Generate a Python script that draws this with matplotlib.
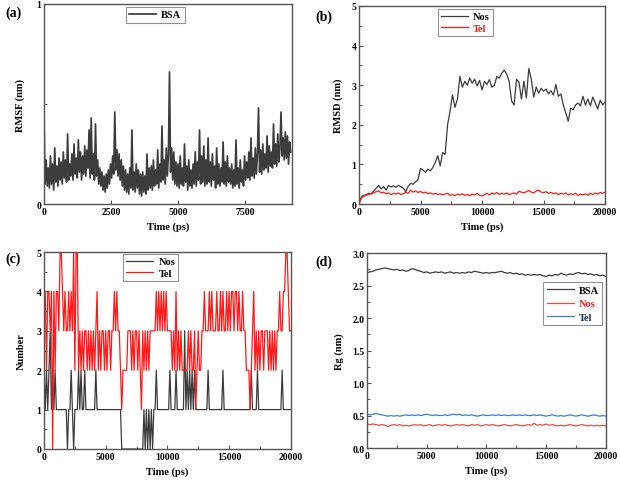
import matplotlib
matplotlib.use("Agg")
import matplotlib.pyplot as plt
from matplotlib.ticker import MultipleLocator, FixedLocator
import numpy as np

plt.rcParams['font.family'] = ['Liberation Serif', 'DejaVu Serif']
plt.rcParams['font.weight'] = 'bold'

# ---------------- data ----------------
# (a) RMSF of BSA, atoms 0..9200 step 40
rmsf_step = 40
rmsf = [
    0.45, 0.10, 0.22, 0.09, 0.18, 0.08, 0.24, 0.10, 0.20, 0.07, 0.28, 0.11, 0.19, 0.09, 0.23, 0.12, 0.21, 0.10, 0.26, 0.13, 0.22, 0.11, 0.35, 0.12, 0.20,
    0.14, 0.25, 0.12, 0.30, 0.15, 0.23, 0.13, 0.32, 0.16, 0.26, 0.12, 0.24, 0.15, 0.29, 0.14, 0.27, 0.18, 0.37, 0.13, 0.43, 0.15, 0.25, 0.12, 0.40, 0.14,
    0.22, 0.10, 0.18, 0.09, 0.16, 0.07, 0.14, 0.06, 0.15, 0.08, 0.17, 0.10, 0.20, 0.13, 0.24, 0.15, 0.46, 0.17, 0.27, 0.14, 0.25, 0.12, 0.22, 0.09, 0.19,
    0.07, 0.17, 0.06, 0.15, 0.05, 0.18, 0.08, 0.37, 0.07, 0.16, 0.06, 0.20, 0.08, 0.17, 0.05, 0.15, 0.04, 0.16, 0.06, 0.14, 0.05, 0.25, 0.07, 0.18, 0.08,
    0.19, 0.07, 0.22, 0.09, 0.17, 0.10, 0.27, 0.08, 0.20, 0.11, 0.39, 0.12, 0.22, 0.10, 0.28, 0.14, 0.25, 0.66, 0.16, 0.28, 0.12, 0.26, 0.10, 0.21, 0.09,
    0.20, 0.08, 0.24, 0.10, 0.18, 0.09, 0.30, 0.11, 0.19, 0.07, 0.22, 0.09, 0.17, 0.08, 0.20, 0.10, 0.26, 0.09, 0.21, 0.12, 0.37, 0.10, 0.24, 0.11, 0.29,
    0.09, 0.22, 0.10, 0.33, 0.11, 0.21, 0.09, 0.25, 0.12, 0.19, 0.08, 0.28, 0.10, 0.20, 0.09, 0.18, 0.11, 0.31, 0.10, 0.21, 0.09, 0.24, 0.11, 0.18, 0.10,
    0.20, 0.08, 0.17, 0.09, 0.32, 0.10, 0.18, 0.08, 0.22, 0.11, 0.17, 0.09, 0.24, 0.12, 0.21, 0.13, 0.26, 0.12, 0.33, 0.14, 0.23, 0.13, 0.28, 0.15, 0.25,
    0.48, 0.16, 0.27, 0.15, 0.30, 0.17, 0.25, 0.18, 0.34, 0.16, 0.29, 0.19, 0.26, 0.18, 0.40, 0.20, 0.30, 0.19, 0.35, 0.21, 0.28, 0.46, 0.24, 0.33, 0.22,
    0.36, 0.23, 0.34, 0.20, 0.31, 0.26,
]

# (b) RMSD, time 0..20000 step 200
rmsd_step = 200
rmsd_nos = [
    0.00, 0.18, 0.22, 0.24, 0.27, 0.26, 0.33, 0.40, 0.47, 0.38,
    0.44, 0.35, 0.47, 0.43, 0.46, 0.42, 0.47, 0.44, 0.40, 0.31,
    0.45, 0.52, 0.50, 0.56, 0.62, 0.90, 0.86, 0.80, 0.88, 0.84,
    0.92, 1.05, 1.22, 0.96, 1.30, 1.25, 2.00, 2.35, 2.76, 2.44,
    2.65, 3.22, 2.95, 3.10, 3.00, 3.18, 3.05, 3.15, 2.98, 3.12,
    2.88, 3.10, 3.02, 3.14, 2.95, 3.00, 3.22, 3.18, 3.30, 3.38,
    3.28, 3.10, 2.60, 2.50, 3.15, 3.08, 2.65, 3.10, 2.68, 3.42,
    3.15, 2.70, 2.95, 2.80, 2.92, 2.85, 2.90, 2.78, 2.86, 2.75,
    3.02, 2.72, 2.78, 2.50, 2.30, 2.09, 2.42, 2.38, 2.50, 2.55,
    2.48, 2.72, 2.50, 2.65, 2.48, 2.70, 2.55, 2.40, 2.62, 2.50,
    2.58,
]
rmsd_tel = [
    0.00, 0.15, 0.20, 0.22, 0.24, 0.26, 0.28, 0.31, 0.33, 0.28,
    0.30, 0.26, 0.28, 0.24, 0.27, 0.25, 0.28, 0.24, 0.26, 0.29,
    0.27, 0.35, 0.30, 0.33, 0.29, 0.32, 0.28, 0.30, 0.26, 0.28,
    0.25, 0.27, 0.24, 0.26, 0.23, 0.25, 0.27, 0.22, 0.24, 0.21,
    0.25, 0.23, 0.26, 0.22, 0.24, 0.21, 0.25, 0.23, 0.27, 0.22,
    0.20, 0.24, 0.27, 0.23, 0.28, 0.25, 0.29, 0.24, 0.27, 0.25,
    0.28, 0.24, 0.26, 0.28, 0.25, 0.32, 0.30, 0.28, 0.31, 0.34,
    0.30, 0.28, 0.33, 0.35, 0.30, 0.29, 0.31, 0.27, 0.29, 0.26,
    0.28, 0.24, 0.27, 0.25, 0.28, 0.23, 0.26, 0.24, 0.27, 0.22,
    0.25, 0.23, 0.26, 0.22, 0.27, 0.24, 0.28, 0.25, 0.29, 0.27,
    0.30,
]

# (c) number of H-bonds, time 0..20000 step 100
hb_step = 100
hb_tel = [
    3, 4, 2, 4, 4, 3, 4, 0, 4, 2,
    4, 4, 3, 5, 5, 4, 3, 4, 3, 3,
    4, 3, 4, 3, 5, 2, 5, 5, 2, 3,
    2, 3, 2, 3, 3, 2, 3, 2, 3, 2,
    3, 2, 3, 4, 2, 3, 2, 3, 3, 2,
    3, 2, 3, 3, 2, 3, 3, 4, 3, 4,
    3, 3, 2, 1, 2, 2, 2, 2, 3, 3,
    3, 2, 3, 2, 3, 3, 2, 3, 2, 1,
    3, 2, 3, 2, 3, 2, 3, 3, 3, 3,
    3, 4, 3, 4, 3, 4, 3, 4, 3, 4,
    3, 3, 3, 3, 2, 3, 2, 4, 2, 3,
    2, 3, 2, 2, 2, 2, 2, 3, 2, 3,
    2, 2, 3, 1, 2, 3, 2, 2, 3, 3,
    4, 3, 3, 3, 4, 3, 4, 3, 3, 3,
    4, 3, 3, 4, 3, 4, 3, 3, 4, 3,
    4, 3, 4, 4, 3, 4, 4, 3, 4, 3,
    3, 4, 3, 3, 2, 2, 2, 1, 2, 3,
    4, 2, 3, 2, 3, 2, 3, 3, 2, 3,
    3, 3, 2, 3, 2, 3, 2, 3, 2, 3,
    3, 4, 3, 3, 4, 4, 5, 5, 4, 3,
    3,
]
hb_nos = [
    2, 1, 2, 1, 2, 3, 1, 2, 1, 2,
    1, 1, 1, 1, 1, 1, 1, 1, 1, 0,
    1, 1, 2, 1, 0, 1, 1, 1, 2, 1,
    2, 1, 1, 2, 1, 1, 1, 1, 1, 1,
    1, 1, 2, 1, 1, 1, 1, 1, 1, 1,
    1, 1, 1, 1, 1, 1, 1, 1, 1, 1,
    1, 1, 1, 0, 0, 0, 0, 0, 0, 0,
    0, 0, 0, 0, 0, 0, 0, 0, 0, 0,
    0, 1, 0, 1, 0, 1, 0, 1, 0, 1,
    1, 2, 1, 1, 1, 1, 1, 1, 1, 1,
    1, 1, 2, 1, 1, 1, 1, 2, 1, 1,
    1, 1, 1, 1, 3, 1, 2, 1, 2, 1,
    2, 1, 2, 1, 1, 1, 1, 1, 1, 1,
    1, 1, 1, 2, 1, 1, 1, 1, 1, 1,
    1, 1, 1, 1, 1, 2, 1, 1, 1, 1,
    1, 1, 1, 1, 1, 1, 1, 1, 1, 1,
    1, 1, 1, 1, 1, 1, 1, 1, 2, 1,
    1, 1, 1, 2, 1, 1, 1, 1, 1, 1,
    1, 1, 1, 1, 1, 1, 1, 1, 1, 1,
    1, 1, 1, 2, 1, 1, 1, 1, 1, 1,
    1,
]

# (d) Rg, time 0..20000 step 250
rg_step = 250
rg_bsa = [
    2.70, 2.71, 2.72, 2.74, 2.75, 2.76, 2.77, 2.76, 2.75,
    2.74, 2.75, 2.73, 2.74, 2.72, 2.73, 2.76, 2.75,
    2.73, 2.72, 2.70, 2.71, 2.69, 2.70, 2.71, 2.70,
    2.71, 2.69, 2.70, 2.71, 2.69, 2.70, 2.69, 2.70,
    2.69, 2.71, 2.70, 2.72, 2.71, 2.70, 2.69, 2.70,
    2.69, 2.70, 2.70, 2.71, 2.72, 2.70, 2.69, 2.70,
    2.68, 2.69, 2.67, 2.68, 2.66, 2.67, 2.66, 2.67,
    2.66, 2.67, 2.65, 2.64, 2.66, 2.65, 2.67, 2.66,
    2.69, 2.67, 2.66, 2.68, 2.67, 2.69, 2.70, 2.68,
    2.69, 2.67, 2.68, 2.66, 2.67, 2.65, 2.66, 2.64,
]
rg_nos = [
    0.37, 0.36, 0.37, 0.36, 0.35, 0.36, 0.35, 0.33, 0.35,
    0.36, 0.35, 0.36, 0.34, 0.35, 0.34, 0.35, 0.36,
    0.35, 0.36, 0.34, 0.35, 0.36, 0.34, 0.35, 0.36,
    0.35, 0.36, 0.35, 0.34, 0.35, 0.36, 0.35, 0.36,
    0.35, 0.34, 0.36, 0.35, 0.36, 0.34, 0.35, 0.36,
    0.35, 0.36, 0.35, 0.34, 0.35, 0.36, 0.35, 0.34,
    0.35, 0.36, 0.35, 0.34, 0.35, 0.36, 0.35, 0.38,
    0.35, 0.36, 0.35, 0.37, 0.35, 0.36, 0.35, 0.34,
    0.35, 0.34, 0.35, 0.36, 0.35, 0.34, 0.35, 0.36,
    0.35, 0.34, 0.35, 0.34, 0.35, 0.34, 0.35, 0.34,
]
rg_tel = [
    0.52, 0.51, 0.52, 0.53, 0.52, 0.51, 0.50, 0.49, 0.50,
    0.49, 0.50, 0.49, 0.50, 0.51, 0.50, 0.51, 0.50,
    0.51, 0.50, 0.51, 0.52, 0.51, 0.50, 0.51, 0.50,
    0.50, 0.51, 0.50, 0.51, 0.52, 0.51, 0.52, 0.50,
    0.51, 0.50, 0.51, 0.50, 0.49, 0.50, 0.51, 0.50,
    0.50, 0.51, 0.50, 0.51, 0.50, 0.51, 0.50, 0.50,
    0.51, 0.50, 0.51, 0.50, 0.51, 0.50, 0.50, 0.51,
    0.50, 0.51, 0.50, 0.49, 0.50, 0.51, 0.50, 0.49,
    0.50, 0.49, 0.50, 0.51, 0.50, 0.49, 0.50, 0.51,
    0.50, 0.49, 0.50, 0.51, 0.50, 0.49, 0.50, 0.49,
]

# ---------------- style ----------------
GRAY = '#3c3c3c'
RED = '#ff1a1a'
RED_D = '#f04848'
BLUE = '#3b7dd8'
SPINE = '#555555'
TFS = 7
LFS = 7.5

fig = plt.figure(figsize=(6.2, 4.85), dpi=100)

def style(ax):
    for s in ax.spines.values():
        s.set_color(SPINE)
        s.set_linewidth(1.0)
    ax.tick_params(which='both', direction='in', top=False, right=False,
                   labelsize=TFS, width=0.8, color=SPINE, pad=2)
    ax.tick_params(which='major', length=3)
    ax.tick_params(which='minor', length=2)
    for lab in ax.get_xticklabels() + ax.get_yticklabels():
        lab.set_fontweight('bold')

def legend(ax, colors_text, loc, bbox, spacing=0.2):
    lg = ax.legend(loc=loc, bbox_to_anchor=bbox, fontsize=LFS, frameon=True,
                   fancybox=False, handlelength=2.6, handletextpad=0.5,
                   borderpad=0.3, labelspacing=spacing, borderaxespad=0)
    lg.get_frame().set_edgecolor('#777777')
    lg.get_frame().set_linewidth(0.8)
    for t, c in zip(lg.get_texts(), colors_text):
        t.set_color(c)
        t.set_fontweight('bold')
    return lg

# (a)
axa = fig.add_axes([0.071, 0.5773, 0.400, 0.4124])
xa = np.arange(len(rmsf)) * rmsf_step
axa.plot(xa, rmsf, color=GRAY, lw=1.25, label='BSA')
axa.set_xlim(0, 9250)
axa.set_ylim(0, 1)
axa.xaxis.set_major_locator(FixedLocator([0, 2500, 5000, 7500]))
axa.yaxis.set_major_locator(FixedLocator([0, 1]))
axa.yaxis.set_minor_locator(FixedLocator([0.5]))
axa.set_xlabel('Time (ps)', fontsize=LFS, fontweight='bold', labelpad=4)
axa.set_ylabel('RMSF (nm)', fontsize=LFS, fontweight='bold', labelpad=8)
style(axa)
legend(axa, ['black'], 'upper left', (0.33, 0.985))
fig.text(0.008, 0.965, '(a)', fontsize=10, fontweight='bold')

# (b)
axb = fig.add_axes([0.579, 0.5773, 0.397, 0.4083])
xb = np.arange(len(rmsd_nos)) * rmsd_step
axb.plot(xb, rmsd_nos, color=GRAY, lw=0.9, label='Nos')
axb.plot(xb, rmsd_tel, color=RED, lw=0.9, label='Tel')
axb.set_xlim(0, 20000)
axb.set_ylim(0, 5)
axb.xaxis.set_major_locator(MultipleLocator(5000))
axb.xaxis.set_minor_locator(MultipleLocator(2500))
axb.yaxis.set_major_locator(MultipleLocator(1))
axb.yaxis.set_minor_locator(MultipleLocator(0.5))
axb.set_xlabel('Time (ps)', fontsize=LFS, fontweight='bold', labelpad=4)
axb.set_ylabel('RMSD (nm)', fontsize=LFS, fontweight='bold', labelpad=6)
style(axb)
legend(axb, ['black', RED], 'upper left', (0.32, 0.985))
fig.text(0.508, 0.958, '(b)', fontsize=10, fontweight='bold')

# (c)
axc = fig.add_axes([0.071, 0.0722, 0.398, 0.406])
xc = np.arange(len(hb_nos)) * hb_step
axc.plot(xc, hb_nos, color=GRAY, lw=0.9, label='Nos')
axc.plot(xc, hb_tel, color=RED, lw=0.9, label='Tel')
axc.set_xlim(0, 20000)
axc.set_ylim(0, 5)
axc.xaxis.set_major_locator(MultipleLocator(5000))
axc.xaxis.set_minor_locator(MultipleLocator(2500))
axc.yaxis.set_major_locator(MultipleLocator(1))
axc.yaxis.set_minor_locator(MultipleLocator(0.5))
axc.set_xlabel('Time (ps)', fontsize=LFS, fontweight='bold', labelpad=4)
axc.set_ylabel('Number', fontsize=LFS, fontweight='bold', labelpad=8)
style(axc)
legend(axc, ['black', 'black'], 'upper left', (0.32, 0.99))
fig.text(0.008, 0.458, '(c)', fontsize=10, fontweight='bold')

# (d)
axd = fig.add_axes([0.592, 0.0742, 0.385, 0.402])
xd = np.arange(len(rg_bsa)) * rg_step
axd.plot(xd, rg_bsa, color=GRAY, lw=0.9, label='BSA')
axd.plot(xd, rg_nos, color=RED_D, lw=0.9, label='Nos')
axd.plot(xd, rg_tel, color=BLUE, lw=0.9, label='Tel')
axd.set_xlim(0, 20000)
axd.set_ylim(0, 3.0)
axd.xaxis.set_major_locator(MultipleLocator(5000))
axd.xaxis.set_minor_locator(MultipleLocator(2500))
axd.yaxis.set_major_locator(MultipleLocator(0.5))
axd.yaxis.set_minor_locator(MultipleLocator(0.25))
axd.yaxis.set_major_formatter(matplotlib.ticker.FormatStrFormatter('%.1f'))
axd.set_xlabel('Time (ps)', fontsize=LFS, fontweight='bold', labelpad=4)
axd.set_ylabel('Rg (nm)', fontsize=LFS, fontweight='bold', labelpad=6)
style(axd)
legend(axd, ['black', RED, '#1a2a55'], 'upper right', (0.985, 0.85), spacing=0.4)
fig.text(0.508, 0.452, '(d)', fontsize=10, fontweight='bold')

fig.savefig('out.png', dpi=100)
